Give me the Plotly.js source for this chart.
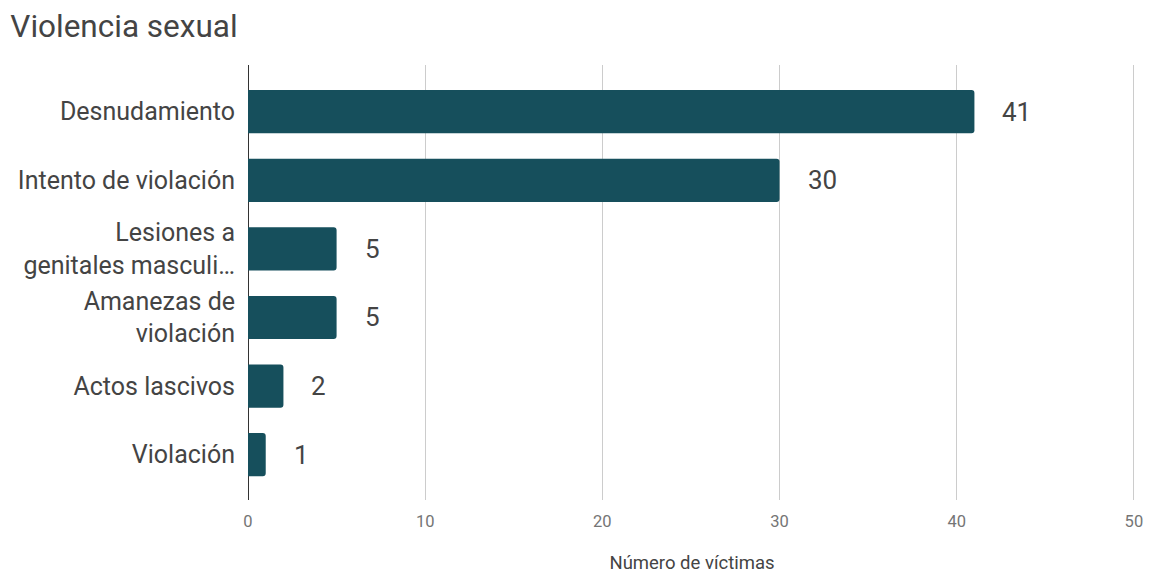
<!DOCTYPE html>
<html><head><meta charset="utf-8">
<script src="https://cdn.plot.ly/plotly-3.0.1.min.js"></script>
<style>html,body{margin:0;padding:0;background:#fff}#chart{width:1149px;height:576px}</style>
</head><body><div id="chart"></div>
<script>
const categories = ["Desnudamiento", "Intento de violación", "Lesiones a<br>genitales masculi…", "Amanezas de<br>violación", "Actos lascivos", "Violación"];
const values = [41, 30, 5, 5, 2, 1];
const xTicks = [0, 10, 20, 30, 40, 50];
const barColor = "#164f5c";

const trace = {
  type: "bar", orientation: "h",
  x: values, y: categories,
  marker: {color: barColor, cornerradius: 3},
  width: 0.63,
  hoverinfo: "x+y"
};
const annotations = values.map((v, i) => ({
  x: v, y: categories[i], xref: "x", yref: "y",
  text: String(v), showarrow: false, xanchor: "left", xshift: 26,
  font: {family: "Roboto", size: 26, color: "#444"}
}));
const layout = {
  width: 1149, height: 576,
  margin: {l: 248, r: 13, t: 65, b: 76},
  paper_bgcolor: "#fff", plot_bgcolor: "#fff",
  title: {text: "Violencia sexual", x: 0.009, xanchor: "left", y: 0.955, yanchor: "middle",
    font: {family: "Roboto", size: 31.5, color: "#444"}},
  xaxis: {range: [0, 50.12], tickvals: xTicks, ticktext: xTicks.map(String),
    showgrid: true, gridcolor: "#cccccc", gridwidth: 1,
    zeroline: true, zerolinecolor: "#333", zerolinewidth: 1,
    showline: false, ticks: "", ticklabelstandoff: 9,
    tickfont: {family: "Roboto", size: 16.5, color: "#757575"},
    title: {text: "Número de víctimas", standoff: 26, font: {family: "Roboto", size: 18.5, color: "#444"}}},
  yaxis: {type: "category", range: [5.66, -0.68], showgrid: false, zeroline: false,
    ticks: "", ticklabelstandoff: 12,
    tickfont: {family: "Roboto", size: 25, color: "#444"}},
  annotations: annotations,
  showlegend: false
};
Plotly.newPlot("chart", [trace], layout, {displayModeBar: false, staticPlot: true});
</script></body></html>
